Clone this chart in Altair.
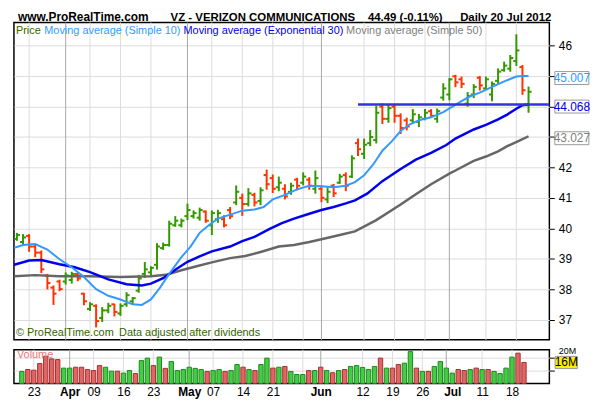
import altair as alt
import numpy as np
import pandas as pd

FONT = "Liberation Sans"

# ---------------- data ----------------
opens = [39.65, 39.55, 39.75, 39.40, 39.20, 38.45, 38.05, 38.25, 38.25, 38.30,
         38.50, 37.85, 37.35, 37.45, 37.05, 37.30, 37.50, 37.20, 37.50, 37.60,
         37.95, 38.50, 38.55, 38.80, 39.35, 39.45, 40.10, 40.10, 40.40, 40.40,
         40.35, 40.55, 40.10, 40.30, 40.30, 40.60, 40.85, 41.00, 40.80, 41.10,
         40.90, 41.75, 41.65, 41.35, 41.30, 41.20, 41.60, 41.50, 41.60, 41.30,
         41.30, 40.95, 41.40, 41.50, 41.75, 41.70, 42.80, 42.45, 42.80, 42.90,
         44.00, 43.60, 44.00, 43.70, 43.55, 43.55, 43.50, 43.60, 43.85, 43.60,
         44.30, 44.40, 45.00, 44.90, 44.10, 44.40, 44.95, 44.60, 44.40, 44.85,
         45.20, 45.25, 45.50, 45.30, 44.05]
highs = [39.85, 39.81, 39.81, 39.45, 39.27, 38.50, 38.12, 38.31, 38.55, 38.57,
         38.53, 37.88, 37.57, 37.50, 37.41, 37.55, 37.52, 37.53, 37.90, 37.74,
         38.47, 38.89, 38.75, 39.51, 39.53, 40.25, 40.40, 40.32, 40.81, 40.59,
         40.68, 40.59, 40.59, 40.61, 40.43, 40.70, 41.41, 41.14, 41.32, 41.17,
         41.35, 41.93, 41.77, 41.70, 41.45, 41.50, 41.66, 41.84, 41.68, 41.90,
         41.41, 41.35, 41.46, 41.79, 41.84, 42.40, 42.95, 42.95, 43.23, 44.03,
         44.11, 44.08, 44.09, 43.78, 43.64, 43.92, 43.76, 43.92, 43.92, 43.94,
         44.77, 44.94, 45.05, 44.99, 44.48, 44.74, 45.01, 44.99, 44.83, 45.26,
         45.48, 45.70, 46.38, 45.37, 44.66]
lows = [39.59, 39.46, 39.23, 39.05, 38.53, 37.99, 37.48, 37.93, 38.15, 38.18,
        38.26, 37.47, 37.28, 36.74, 36.92, 37.21, 37.10, 37.12, 37.42, 37.50,
        37.88, 38.37, 38.42, 38.64, 39.29, 39.40, 40.05, 40.03, 40.27, 40.32,
        40.25, 40.18, 39.78, 40.18, 40.03, 40.30, 40.76, 40.41, 40.72, 40.72,
        40.76, 41.27, 41.16, 41.22, 40.95, 41.10, 41.25, 41.41, 41.27, 41.14,
        40.86, 40.83, 41.03, 41.46, 41.22, 41.65, 42.38, 42.28, 42.70, 42.79,
        43.43, 43.47, 43.47, 43.10, 43.22, 43.43, 43.33, 43.55, 43.66, 43.47,
        44.20, 44.21, 44.64, 44.61, 44.00, 44.28, 44.53, 44.56, 44.18, 44.75,
        45.15, 45.15, 45.34, 44.39, 43.80]
closes = [39.78, 39.70, 39.40, 39.20, 38.65, 38.20, 37.85, 38.00, 38.45, 38.50,
          38.35, 37.60, 37.50, 36.95, 37.30, 37.45, 37.25, 37.45, 37.80, 37.70,
          38.35, 38.65, 38.70, 39.40, 39.45, 40.15, 40.25, 40.25, 40.60, 40.50,
          40.60, 40.25, 40.50, 40.50, 40.10, 40.40, 41.20, 40.80, 41.15, 40.85,
          41.25, 41.45, 41.30, 41.50, 41.05, 41.40, 41.40, 41.70, 41.40, 41.65,
          41.00, 41.20, 41.15, 41.70, 41.40, 42.30, 42.60, 42.75, 43.00, 43.80,
          43.60, 43.95, 43.70, 43.30, 43.35, 43.75, 43.65, 43.80, 43.70, 43.85,
          44.60, 44.90, 44.80, 44.75, 44.35, 44.65, 44.70, 44.90, 44.75, 45.15,
          45.35, 45.60, 45.85, 44.54, 44.49]

# volume in millions, and its up (g) / down (r) colouring
volumes = [9.4, 10.9, 10.4, 15.6, 21.3, 19.2, 18.7, 12.0, 12.0, 12.7,
           12.7, 10.9, 10.1, 14.0, 12.7, 9.6, 9.6, 8.1, 10.1, 7.8,
           17.9, 19.8, 14.0, 20.6, 11.8, 17.2, 10.1, 10.9, 12.7, 11.8,
           10.9, 9.4, 10.1, 10.9, 9.4, 10.1, 14.8, 12.7, 10.9, 10.1,
           14.8, 19.8, 12.0, 12.7, 13.3, 9.4, 7.0, 7.0, 10.1, 10.1,
           12.7, 10.1, 8.4, 10.1, 10.9, 13.3, 14.0, 12.5, 10.9, 13.3,
           19.8, 12.0, 12.0, 14.8, 15.9, 24.9, 12.0, 9.4, 9.4, 13.3,
           17.2, 12.0, 8.1, 10.9, 10.1, 10.9, 12.0, 10.9, 10.9, 9.4,
           7.8, 12.0, 20.6, 23.7, 16.4]
vol_dir = list("grrrrrrggrrrrrggrggrggrgrggggggrggrggrgrggrg"
               "rgggrgrgrgrgggggrgrrggrgrggggrrgrgrggggrr")

# moving averages (bar index, value)
sma10_i = [-0.45, 1, 3, 5, 7, 9, 11, 13, 15, 17, 19, 20.5, 22, 23.5, 25, 27, 28.5, 30, 31.5, 33,
           35, 37, 39, 40.5, 42, 44, 46, 48, 50, 52, 54, 55.5, 57, 58.5, 60, 61.5, 63, 64.5, 66, 68,
           70, 71.5, 73, 74.5, 76, 77.5, 79, 80.5, 82, 83, 84]
sma10_v = [39.36, 39.45, 39.48, 39.30, 38.98, 38.72, 38.40, 38.00, 37.78, 37.66,
           37.50, 37.48, 37.66, 38.05, 38.50, 39.05, 39.40, 39.85, 40.10, 40.32,
           40.45, 40.58, 40.62, 40.70, 40.95, 41.10, 41.28, 41.40, 41.38, 41.35,
           41.40, 41.52, 41.74, 42.10, 42.55, 42.85, 43.20, 43.42, 43.55, 43.65,
           43.82, 44.00, 44.18, 44.35, 44.46, 44.60, 44.74, 44.87, 44.99, 45.01, 45.007]
ema30_i = [-0.45, 2, 4, 7, 9.5, 12, 15, 18, 20.5, 22, 24, 26, 28, 30, 32, 35, 37, 39, 41.5, 43.5,
           45.5, 48, 50, 52, 54, 55.5, 57.5, 60, 63, 65.5, 68, 70.5, 72, 75, 77, 79, 80.5, 82, 83, 84]
ema30_v = [38.80, 38.94, 38.96, 38.82, 38.72, 38.56, 38.32, 38.16, 38.12, 38.18,
           38.36, 38.64, 38.90, 39.08, 39.24, 39.40, 39.58, 39.72, 39.98, 40.17,
           40.32, 40.48, 40.60, 40.70, 40.82, 40.92, 41.14, 41.55, 41.95, 42.26,
           42.48, 42.74, 42.95, 43.25, 43.40, 43.58, 43.74, 43.93, 44.05, 44.068]
sma50_i = [-0.45, 3, 7, 12, 17, 22, 24.5, 27, 29.5, 32, 35, 37.5, 40, 43, 45.5, 48, 50, 53, 55.5, 59,
           63, 65.5, 68, 71, 72, 75, 77, 79, 80.5, 82.5, 84]
sma50_v = [38.42, 38.46, 38.42, 38.42, 38.40, 38.42, 38.47, 38.62, 38.75, 38.88,
           39.02, 39.09, 39.22, 39.40, 39.45, 39.55, 39.64, 39.78, 39.90, 40.27,
           40.78, 41.12, 41.45, 41.80, 41.90, 42.22, 42.36, 42.53, 42.70, 42.88, 43.027]

# horizontal line drawn on the chart
trend_start = [56]
trend_value = [44.068]

# last-value boxes on the price scale
box_values = [45.007, 44.068, 43.027]

# x axis labels and grid lines (bar index)
label_idx = [2, 8, 12, 17, 22, 28, 32, 37, 42, 50, 57, 62, 67, 72, 77, 82]
label_txt = ["23", "Apr", "09", "16", "23", "May", "07", "14", "21", "Jun",
             "12", "19", "26", "Jul", "11", "18"]
month_label_idx = [8, 28, 50, 72]
week_grid = [2, 12, 17, 22, 32, 37, 42, 47, 57, 62, 67, 77, 82]
month_grid = [8, 28, 50, 71]
price_ticks = [37, 38, 39, 40, 41, 42, 43, 44, 45, 46]
volume_ticks = [10, 20]

TITLE_SITE = "www.ProRealTime.com"
TITLE_NAME = "VZ - VERIZON COMMUNICATIONS"
TITLE_QUOTE = "44.49 (-0.11%)"
TITLE_DATE = "Daily  20 Jul 2012"

# ---------------- chart ----------------
W, HP, HV = 540, 320, 34
xs = alt.Scale(domain=[-0.49, 87.42], nice=False, zero=False)
ys = alt.Scale(domain=[36.332, 46.766], nice=False, zero=False)
vs = alt.Scale(domain=[0, 26.36], nice=False, zero=True)

GREEN, RED = "#339900", "#ff3300"

N = len(closes)
pdf = pd.DataFrame({"i": np.arange(N), "o": opens, "h": highs, "l": lows, "c": closes})
pdf["dir"] = np.where(pdf["c"] >= pdf["o"], "up", "down")
pdf["il"] = pdf["i"] - 0.5
pdf["ir"] = pdf["i"] + 0.5
pcol = alt.Scale(domain=["up", "down"], range=[GREEN, RED])

lab_expr = ("[" + ",".join(f"'{t}'" for t in label_txt) + "][indexof(["
            + ",".join(str(i) for i in label_idx) + "], datum.value)]")
xaxis_vol = alt.Axis(orient="bottom", values=label_idx, labelExpr=lab_expr, ticks=False,
                     domain=False, grid=False, labelPadding=3, labelFontSize=12,
                     labelOverlap=False, labelFlush=False, title=None,
                     labelFontWeight=alt.condition(
                         f"indexof({month_label_idx}, datum.value) >= 0",
                         alt.value("bold"), alt.value("normal")))
yaxis = alt.Axis(orient="right", values=price_ticks, grid=True, gridColor="#dcdcdc",
                 tickSize=5, labelPadding=4, domain=False, title=None,
                 labelExpr="indexof([43,44,45], datum.value) >= 0 ? '' : datum.label")
vaxis = alt.Axis(orient="right", values=volume_ticks, grid=True, gridColor="#dcdcdc",
                 tickSize=5, labelPadding=4, domain=False, title=None,
                 labelFontSize=9, labelBaseline="bottom", labelOffset=-2,
                 labelExpr="datum.value == 20 ? '20M' : ''")


def grid_layers(xaxis):
    wk = alt.Chart(pd.DataFrame({"g": week_grid})).mark_rule(color="#dcdcdc", strokeWidth=1).encode(
        x=alt.X("g:Q", scale=xs, axis=xaxis))
    mo = alt.Chart(pd.DataFrame({"g": month_grid})).mark_rule(color="#a8a8a8", strokeWidth=1).encode(
        x=alt.X("g:Q", scale=xs, axis=xaxis))
    return [wk, mo]


def txt(s, x, y, color, size=11, weight="normal", align="left", baseline="middle"):
    return alt.Chart(pd.DataFrame({"t": [s]})).mark_text(
        align=align, baseline=baseline, font=FONT, fontSize=size, fontWeight=weight, color=color
    ).encode(text="t:N", x=alt.value(x), y=alt.value(y))


def value_box(d, yenc, x, shape, size, fill, yoff=0):
    """A filled box plus its grey outline, placed at a data value on the y scale."""
    filled = alt.Chart(d).mark_point(shape=shape, size=size, filled=True, color=fill,
                                     opacity=1, yOffset=yoff).encode(x=alt.value(x), y=yenc)
    outline = alt.Chart(d).mark_point(shape=shape, size=size, filled=False, color="#999999",
                                      strokeWidth=1, opacity=1, yOffset=yoff).encode(
        x=alt.value(x), y=yenc)
    return [filled, outline]


base = alt.Chart(pdf)
hl = base.mark_rule(strokeWidth=2).encode(
    x=alt.X("i:Q", scale=xs, axis=None),
    y=alt.Y("l:Q", scale=ys, axis=yaxis),
    y2="h:Q",
    color=alt.Color("dir:N", scale=pcol, legend=None))
op = base.mark_rule(strokeWidth=2).encode(
    x=alt.X("il:Q", scale=xs, axis=None), x2="i:Q",
    y=alt.Y("o:Q", scale=ys, axis=yaxis),
    color=alt.Color("dir:N", scale=pcol, legend=None))
cl = base.mark_rule(strokeWidth=2).encode(
    x=alt.X("i:Q", scale=xs, axis=None), x2="ir:Q",
    y=alt.Y("c:Q", scale=ys, axis=yaxis),
    color=alt.Color("dir:N", scale=pcol, legend=None))


def ma_line(ix, vals, color, width):
    return alt.Chart(pd.DataFrame({"i": ix, "v": vals})).mark_line(
        color=color, strokeWidth=width).encode(
        x=alt.X("i:Q", scale=xs, axis=None), y=alt.Y("v:Q", scale=ys, axis=yaxis))


sma50 = ma_line(sma50_i, sma50_v, "#666666", 2.5)
ema30 = ma_line(ema30_i, ema30_v, "#0000ee", 2.5)
sma10 = ma_line(sma10_i, sma10_v, "#3399ff", 2)

trend = alt.Chart(pd.DataFrame({"s": trend_start, "v": trend_value})).mark_rule(
    color="#3333dd", strokeWidth=2.5).encode(
    x=alt.X("s:Q", scale=xs, axis=None), x2=alt.value(W),
    y=alt.Y("v:Q", scale=ys, axis=yaxis))

BOX_PATH = "M-1,-0.38H1V0.38H-1Z"
box_colors = ["#3399ff", "#0000ee", "#808080"]
box_layers = []
for val, col in zip(box_values, box_colors):
    d = pd.DataFrame({"v": [val], "t": [f"{val:.3f}"]})
    yenc = alt.Y("v:Q", scale=ys, axis=yaxis)
    box_layers += value_box(d, yenc, 562.7, BOX_PATH, 1176, "white", yoff=2)
    box_layers.append(alt.Chart(d).mark_text(
        font=FONT, fontSize=12, color=col, align="center", baseline="middle", dy=2).encode(
        text="t:N", x=alt.value(562.7), y=yenc))

texts = [
    txt(TITLE_SITE, 4, -2, "black", 12, "bold", baseline="alphabetic"),
    txt(TITLE_NAME, 158, -2, "black", 11.5, "bold", baseline="alphabetic"),
    txt(TITLE_QUOTE, 357, -2, "black", 11.5, "bold", baseline="alphabetic"),
    txt(TITLE_DATE, 450, -2, "black", 11.5, "bold", baseline="alphabetic"),
    txt("Price", 2, 9, "#336600"),
    txt("Moving average (Simple 10)", 30.6, 9, "#3399ff"),
    txt("Moving average (Exponential 30)", 171, 9, "#0000ee"),
    txt("Moving average (Simple 50)", 335, 9, "#808080"),
    txt("\u00a9 ProRealTime.com", 2, HP - 7, "#336600"),
    txt("Data adjusted after dividends", 106, HP - 7, "#336600"),
]

price = alt.layer(*grid_layers(None), hl, op, cl, sma50, ema30, sma10, trend,
                  *box_layers, *texts).properties(width=W, height=HP)

# ---------------- volume panel ----------------
vdf = pd.DataFrame({"i": np.arange(N), "v": volumes, "d": vol_dir})

vbars = alt.Chart(vdf).mark_bar(size=4.4, strokeWidth=1, orient="vertical").encode(
    x=alt.X("i:Q", scale=xs, axis=xaxis_vol),
    y=alt.Y("v:Q", scale=vs, axis=vaxis),
    fill=alt.Fill("d:N", scale=alt.Scale(domain=["g", "r"], range=["#44cc44", "#e06666"]), legend=None),
    stroke=alt.Stroke("d:N", scale=alt.Scale(domain=["g", "r"], range=["#1e8a1e", "#a83030"]), legend=None))

last_vol = pd.DataFrame({"v": [volumes[-1]], "t": [f"{round(volumes[-1])}M"]})
vyenc = alt.Y("v:Q", scale=vs, axis=vaxis)
vbox = value_box(last_vol, vyenc, 557, "M-1,-0.55H1V0.55H-1Z", 500, "#ffee00")
vtext = alt.Chart(last_vol).mark_text(font=FONT, fontSize=12, color="black", align="center",
                                      baseline="middle").encode(
    text="t:N", x=alt.value(557), y=vyenc)

volume = alt.layer(*grid_layers(xaxis_vol), vbars, *vbox, vtext,
                   txt("Volume", 3, 5.8, "#e87878")).properties(width=W, height=HV)

chart = alt.vconcat(price, volume, spacing=4).resolve_scale(y="independent").properties(
    padding=0, background="white"
).configure_view(stroke="black", strokeWidth=1.5).configure_axis(
    labelFont=FONT, labelFontSize=12, labelColor="black", tickColor="black"
)

chart.save("out.html", embed_options={"renderer": "svg", "actions": False})
